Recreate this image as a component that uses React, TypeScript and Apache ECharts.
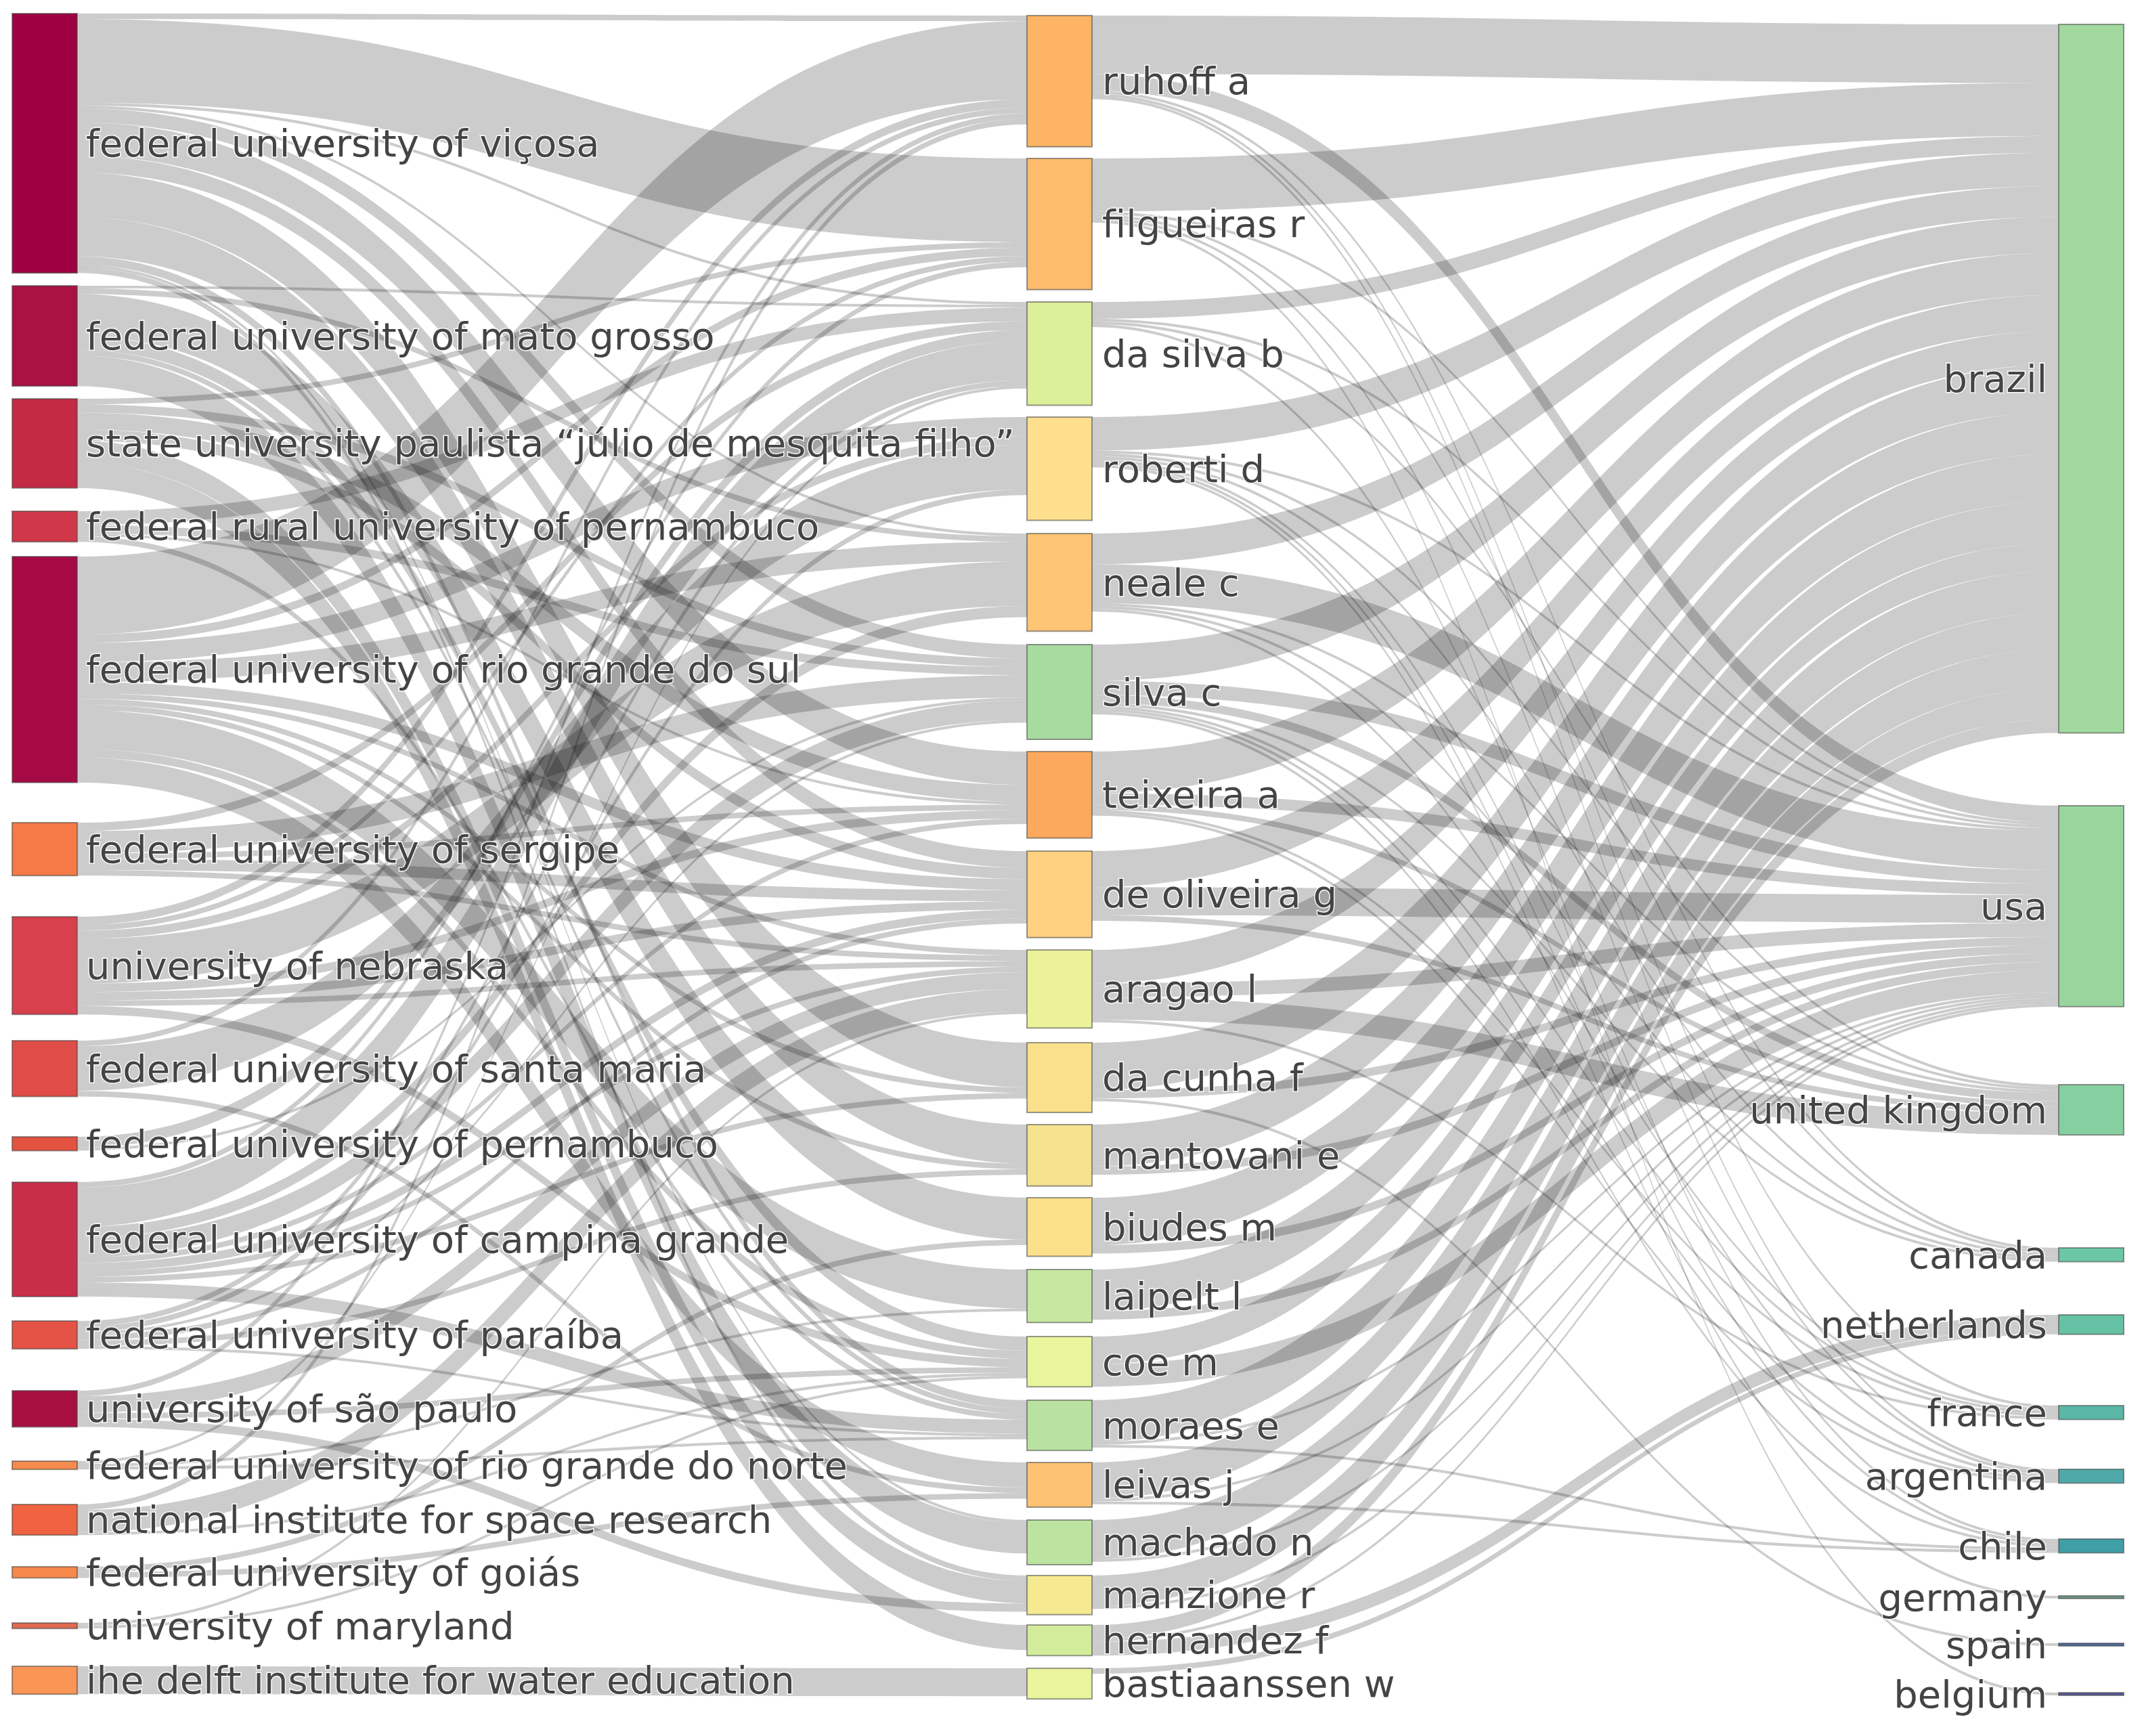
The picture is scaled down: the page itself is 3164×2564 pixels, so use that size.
import React, { useEffect, useRef } from "react";
import * as echarts from "echarts";

// ---------- data ----------
const institutions = [
  "federal university of viçosa",
  "federal university of mato grosso",
  "state university paulista “júlio de mesquita filho”",
  "federal rural university of pernambuco",
  "federal university of rio grande do sul",
  "federal university of sergipe",
  "university of nebraska",
  "federal university of santa maria",
  "federal university of pernambuco",
  "federal university of campina grande",
  "federal university of paraíba",
  "university of são paulo",
  "federal university of rio grande do norte",
  "national institute for space research",
  "federal university of goiás",
  "university of maryland",
  "ihe delft institute for water education",
];

const authors = [
  "ruhoff a", "filgueiras r", "da silva b", "roberti d", "neale c", "silva c",
  "teixeira a", "de oliveira g", "aragao l", "da cunha f", "mantovani e",
  "biudes m", "laipelt l", "coe m", "moraes e", "leivas j", "machado n",
  "manzione r", "hernandez f", "bastiaanssen w",
];
const authorTotals = [47, 47, 37, 37, 35, 34, 31, 31, 28, 25, 22, 21, 19, 18, 18, 16, 16, 14, 11, 11];

const countries = [
  "brazil", "usa", "united kingdom", "canada", "netherlands", "france",
  "argentina", "chile", "germany", "spain", "belgium",
];

const institutionAuthorLinks: [string, string, number][] = [
  ["federal university of viçosa", "filgueiras r", 30],
  ["federal university of viçosa", "da cunha f", 16],
  ["federal university of viçosa", "mantovani e", 14],
  ["federal university of viçosa", "teixeira a", 12],
  ["federal university of viçosa", "de oliveira g", 6],
  ["federal university of viçosa", "silva c", 5],
  ["federal university of viçosa", "moraes e", 3],
  ["federal university of viçosa", "ruhoff a", 2],
  ["federal university of viçosa", "manzione r", 2],
  ["federal university of viçosa", "da silva b", 1],
  ["federal university of viçosa", "neale c", 1],
  ["federal university of viçosa", "machado n", 1],
  ["federal university of mato grosso", "biudes m", 15],
  ["federal university of mato grosso", "machado n", 11],
  ["federal university of mato grosso", "coe m", 5],
  ["federal university of mato grosso", "moraes e", 2],
  ["federal university of mato grosso", "neale c", 2],
  ["federal university of mato grosso", "da silva b", 1],
  ["state university paulista “júlio de mesquita filho”", "manzione r", 8],
  ["state university paulista “júlio de mesquita filho”", "hernandez f", 9],
  ["state university paulista “júlio de mesquita filho”", "teixeira a", 6],
  ["state university paulista “júlio de mesquita filho”", "de oliveira g", 4],
  ["state university paulista “júlio de mesquita filho”", "silva c", 3],
  ["state university paulista “júlio de mesquita filho”", "filgueiras r", 2],
  ["federal rural university of pernambuco", "da silva b", 5],
  ["federal rural university of pernambuco", "silva c", 3],
  ["federal rural university of pernambuco", "moraes e", 2],
  ["federal rural university of pernambuco", "teixeira a", 1],
  ["federal university of rio grande do sul", "ruhoff a", 28],
  ["federal university of rio grande do sul", "laipelt l", 14],
  ["federal university of rio grande do sul", "leivas j", 9],
  ["federal university of rio grande do sul", "roberti d", 7],
  ["federal university of rio grande do sul", "neale c", 7],
  ["federal university of rio grande do sul", "de oliveira g", 4],
  ["federal university of rio grande do sul", "filgueiras r", 3],
  ["federal university of rio grande do sul", "coe m", 3],
  ["federal university of rio grande do sul", "aragao l", 2],
  ["federal university of rio grande do sul", "da cunha f", 2],
  ["federal university of rio grande do sul", "mantovani e", 2],
  ["federal university of sergipe", "silva c", 8],
  ["federal university of sergipe", "de oliveira g", 4],
  ["federal university of sergipe", "da silva b", 3],
  ["federal university of sergipe", "teixeira a", 2],
  ["federal university of sergipe", "aragao l", 2],
  ["university of nebraska", "neale c", 16],
  ["university of nebraska", "ruhoff a", 3],
  ["university of nebraska", "de oliveira g", 3],
  ["university of nebraska", "teixeira a", 3],
  ["university of nebraska", "roberti d", 3],
  ["university of nebraska", "coe m", 3],
  ["university of nebraska", "filgueiras r", 2],
  ["university of nebraska", "aragao l", 2],
  ["federal university of santa maria", "roberti d", 16],
  ["federal university of santa maria", "leivas j", 2],
  ["federal university of santa maria", "ruhoff a", 2],
  ["federal university of pernambuco", "da silva b", 4],
  ["federal university of pernambuco", "silva c", 1],
  ["federal university of campina grande", "da silva b", 14],
  ["federal university of campina grande", "silva c", 7],
  ["federal university of campina grande", "moraes e", 5],
  ["federal university of campina grande", "neale c", 4],
  ["federal university of campina grande", "de oliveira g", 3],
  ["federal university of campina grande", "teixeira a", 2],
  ["federal university of campina grande", "aragao l", 2],
  ["federal university of campina grande", "da cunha f", 2],
  ["federal university of campina grande", "filgueiras r", 2],
  ["federal university of paraíba", "roberti d", 2],
  ["federal university of paraíba", "mantovani e", 2],
  ["federal university of paraíba", "da silva b", 2],
  ["federal university of paraíba", "de oliveira g", 2],
  ["federal university of paraíba", "silva c", 1],
  ["federal university of paraíba", "moraes e", 1],
  ["university of são paulo", "aragao l", 6],
  ["university of são paulo", "manzione r", 3],
  ["university of são paulo", "coe m", 2],
  ["university of são paulo", "ruhoff a", 2],
  ["federal university of rio grande do norte", "da silva b", 1],
  ["federal university of rio grande do norte", "laipelt l", 1],
  ["federal university of rio grande do norte", "moraes e", 1],
  ["national institute for space research", "aragao l", 8],
  ["national institute for space research", "ruhoff a", 2],
  ["national institute for space research", "coe m", 1],
  ["federal university of goiás", "biudes m", 2],
  ["federal university of goiás", "leivas j", 2],
  ["university of maryland", "coe m", 1],
  ["university of maryland", "aragao l", 1],
  ["ihe delft institute for water education", "bastiaanssen w", 10],
];

const authorCountryLinks: [string, string, number][] = [
  ["ruhoff a", "brazil", 21], ["ruhoff a", "usa", 6], ["ruhoff a", "canada", 1], ["ruhoff a", "france", 1], ["ruhoff a", "argentina", 1],
  ["filgueiras r", "brazil", 19], ["filgueiras r", "usa", 1], ["filgueiras r", "canada", 1], ["filgueiras r", "argentina", 1], ["filgueiras r", "belgium", 1],
  ["da silva b", "brazil", 6], ["da silva b", "usa", 1], ["da silva b", "united kingdom", 1], ["da silva b", "chile", 1],
  ["roberti d", "brazil", 12], ["roberti d", "usa", 1], ["roberti d", "united kingdom", 1], ["roberti d", "canada", 1], ["roberti d", "argentina", 1], ["roberti d", "chile", 1], ["roberti d", "germany", 1],
  ["neale c", "brazil", 11], ["neale c", "usa", 14], ["neale c", "united kingdom", 1], ["neale c", "canada", 1], ["neale c", "france", 1],
  ["silva c", "brazil", 13], ["silva c", "usa", 5], ["silva c", "united kingdom", 3], ["silva c", "canada", 1], ["silva c", "france", 1], ["silva c", "argentina", 1], ["silva c", "chile", 1],
  ["teixeira a", "brazil", 15], ["teixeira a", "usa", 4], ["teixeira a", "united kingdom", 2], ["teixeira a", "france", 1], ["teixeira a", "argentina", 1],
  ["de oliveira g", "brazil", 13], ["de oliveira g", "usa", 10], ["de oliveira g", "united kingdom", 2],
  ["aragao l", "brazil", 12], ["aragao l", "usa", 5], ["aragao l", "united kingdom", 8], ["aragao l", "france", 1],
  ["da cunha f", "brazil", 17], ["da cunha f", "usa", 3], ["da cunha f", "spain", 1],
  ["mantovani e", "brazil", 15], ["mantovani e", "usa", 3],
  ["biudes m", "brazil", 17], ["biudes m", "usa", 3],
  ["laipelt l", "brazil", 15], ["laipelt l", "usa", 3],
  ["coe m", "brazil", 10], ["coe m", "usa", 8],
  ["moraes e", "brazil", 15], ["moraes e", "usa", 1], ["moraes e", "chile", 1],
  ["leivas j", "brazil", 13], ["leivas j", "usa", 1], ["leivas j", "chile", 1],
  ["machado n", "brazil", 14], ["machado n", "usa", 1],
  ["manzione r", "brazil", 11], ["manzione r", "usa", 1],
  ["hernandez f", "brazil", 5], ["hernandez f", "usa", 1], ["hernandez f", "netherlands", 5],
  ["bastiaanssen w", "netherlands", 2],
];

// ---------- styles ----------
const institutionColors = [
  "#9e0142", "#a91241", "#c42a44", "#d0384a", "#a50a44", "#f57a46", "#d8404d",
  "#e04c48", "#e4533f", "#c92e48", "#e45346", "#a70f40", "#f58b4c", "#ef6340",
  "#f7894a", "#e06a50", "#f99555",
];
const authorColors = [
  "#fdb465", "#fdbb6c", "#dcef9a", "#fedf8e", "#fdc574", "#a8dba0", "#fca95e",
  "#fed080", "#ecf29a", "#fbe08c", "#f5e28f", "#fde08a", "#c6e8a0", "#e8f59c",
  "#b9e2a1", "#fdc272", "#bde3a0", "#f5ea90", "#d3ec9c", "#e9f49d",
];
const countryColors = [
  "#a1d99f", "#99d69e", "#86cfa1", "#6cc7a4", "#66c2a5", "#5ab7a6", "#4fa9a8",
  "#3f9ea6", "#6f9a86", "#4f6b9e", "#5a5a9a",
];

// ---------- layout (pixel tops of nodes, as placed in the reference) ----------
const institutionTops = [20, 422, 589, 755, 822, 1215, 1354, 1537, 1679, 1746, 1951, 2054, 2158, 2222, 2314, 2397, 2461];
const authorTops = [23, 234, 446, 616, 788, 952, 1110, 1257, 1403, 1540, 1661, 1769, 1875, 1974, 2068, 2160, 2245, 2327, 2400, 2464];
const countryTops = [36, 1190, 1602, 1843, 1942, 2076, 2170, 2273, 2357, 2427, 2500];

const KY = 4.12; // px per unit
const TOP = 20;
const H = 2500;
const LEFT = 18;
const W = 3119;
const NODE_W = 96;
const MID_X = 1517;

export default function App() {
  const ref = useRef<HTMLDivElement>(null);

  useEffect(() => {
    if (!ref.current) return;
    const chart = echarts.init(ref.current, null, { renderer: "svg" });

    const inSum: Record<string, number> = {};
    const outSum: Record<string, number> = {};
    [...institutionAuthorLinks, ...authorCountryLinks].forEach(([s, t, v]) => {
      outSum[s] = (outSum[s] || 0) + v;
      inSum[t] = (inSum[t] || 0) + v;
    });
    const midSum = authors.reduce(
      (acc, a, i) => acc + Math.max(authorTotals[i], inSum[a] || 0, outSum[a] || 0),
      0
    );
    const nodeGap = (H - midSum * KY) / (authors.length - 1);

    const labelBase = {
      color: "#444",
      fontFamily: "DejaVu Sans",
      fontSize: 56,
      textBorderColor: "rgba(255,255,255,0.9)",
      textBorderWidth: 3,
    };

    const nodes = [
      ...institutions.map((name, i) => ({
        name,
        itemStyle: { color: institutionColors[i] },
        localY: (institutionTops[i] - TOP) / H,
        label: { position: "right", distance: 12 },
      })),
      ...authors.map((name, i) => ({
        name,
        value: authorTotals[i],
        itemStyle: { color: authorColors[i] },
        localX: (MID_X - LEFT) / W,
        localY: (authorTops[i] - TOP) / H,
        label: { position: "right", distance: 14 },
      })),
      ...countries.map((name, i) => ({
        name,
        itemStyle: { color: countryColors[i] },
        localY: (countryTops[i] - TOP) / H,
        label: { position: "left", distance: 16 },
      })),
    ];

    const links = [...institutionAuthorLinks, ...authorCountryLinks].map(([source, target, value]) => ({
      source,
      target,
      value,
    }));

    chart.setOption({
      animation: false,
      backgroundColor: "#ffffff",
      series: [
        {
          type: "sankey",
          left: LEFT,
          top: TOP,
          width: W,
          height: H,
          nodeWidth: NODE_W,
          nodeGap,
          layoutIterations: 0,
          draggable: false,
          silent: true,
          emphasis: { disabled: true },
          data: nodes,
          links,
          label: labelBase,
          itemStyle: {
            borderColor: "rgba(70,70,70,0.55)",
            borderWidth: 2,
          },
          lineStyle: {
            color: "#000000",
            opacity: 0.2,
            curveness: 0.5,
          },
        },
      ],
    });

    return () => chart.dispose();
  }, []);

  return (
    <div
      ref={ref}
      style={{ position: "absolute", left: 0, top: 0, width: 3164, height: 2564, background: "#fff" }}
    />
  );
}
